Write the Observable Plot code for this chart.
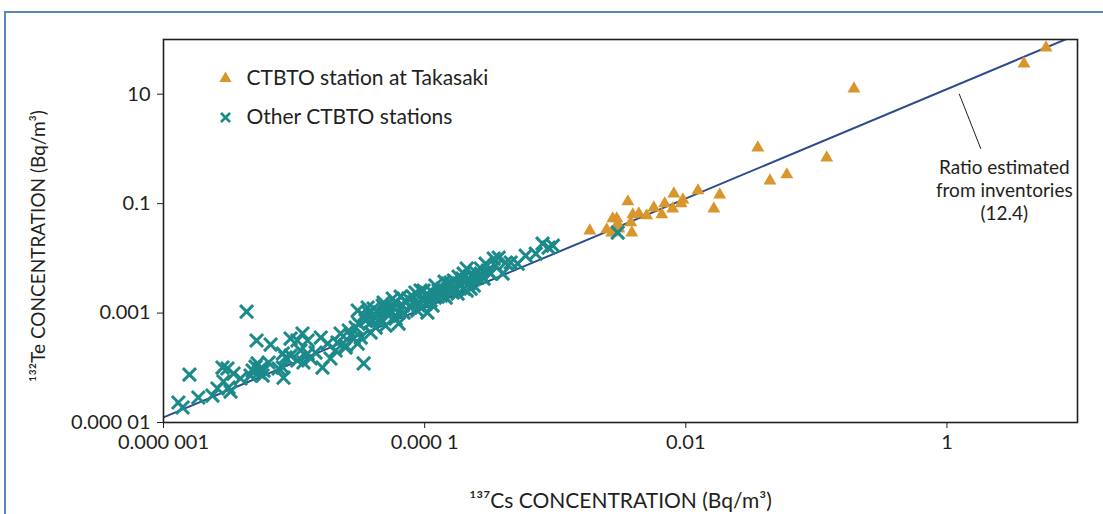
<!DOCTYPE html>
<html><head><meta charset="utf-8">
<script src="https://cdn.jsdelivr.net/npm/d3@7"></script>
<script src="https://cdn.jsdelivr.net/npm/@observablehq/plot@0.6"></script>
<style>
html,body{margin:0;padding:0;background:#fff;}
#wrap{position:relative;width:1103px;height:514px;overflow:hidden;}
#border{position:absolute;left:4px;top:11px;right:-10px;bottom:-10px;border-left:2px solid #5a86b8;border-top:2px solid #5a86b8;}
#chart{position:absolute;left:0;top:0;}
</style></head><body>
<div id="wrap"><div id="border"></div><div id="chart"></div></div>
<script>
// 137Cs (x) and 132Te (y) concentrations, Bq/m3
const otherCs = [1.30e-6,1.40e-6,1.58e-6,1.85e-6,2.59e-6,2.83e-6,3.09e-6,2.88e-6,3.15e-6,3.26e-6,
3.44e-6,4.33e-6,4.81e-6,5.07e-6,5.25e-6,5.35e-6,5.74e-6,5.84e-6,5.54e-6,5.16e-6,
6.61e-6,7.6e-6,8.2e-6,8.3e-6,8.2e-6,8.6e-6,9.4e-6,1.06e-5,1.16e-5,1.27e-5,
1.12e-5,1.27e-5,1.34e-5,1.18e-5,1.06e-5,9.4e-6,1.6e-5,1.65e-5,1.9e-5,1.81e-5,
2.15e-5,2.27e-5,2.62e-5,2.48e-5,2.86e-5,2.96e-5,3.07e-5,3.12e-5,3.41e-5,2.48e-5,
3.07e-5,3.24e-5,3.41e-5,3.72e-5,4.06e-5,3.86e-5,4.22e-5,4.6e-5,4.77e-5,5.02e-5,
5.3e-5,5.69e-5,5.78e-5,6.32e-5,6.32e-5,6.78e-5,7.5e-5,7.8e-5,8.5e-5,9.7e-5,
1.02e-4,1.05e-4,1.17e-4,1.21e-4,1.37e-4,1.45e-4,1.5e-4,1.58e-4,1.67e-4,1.73e-4,
1.79e-4,1.95e-4,1.99e-4,1.99e-4,2.1e-4,2.17e-4,2.25e-4,2.38e-4,2.38e-4,2.55e-4,
2.69e-4,2.69e-4,2.93e-4,3.21e-4,3.38e-4,3.69e-4,3.96e-4,4.56e-4,5.16e-4,5.94e-4,
7.1e-4,8.0e-4,8.9e-4,9.6e-4,3.01e-3,4.37e-5,5.5e-5,6.0e-5,7.1e-5,8.2e-5,
9.0e-5,1.11e-4,1.28e-4,1.33e-4,1.53e-4,1.82e-4,3.66e-5,4.0e-5,4.85e-5,6.55e-5,
9.3e-5,1.07e-4,1.89e-4,2.17e-4,3.04e-4,
3.53e-5,4.45e-5,5.12e-5,6.0e-5,6.9e-5,8.1e-5,8.8e-5,9.8e-5,1.15e-4,1.26e-4,
1.42e-4,1.64e-4,1.82e-4,2.10e-4,2.46e-4,2.83e-4,3.50e-4,4.18e-4,2.71e-5,2.08e-5,
1.46e-5,6.38e-6,4.64e-6,2.37e-6,3.89e-6];
const otherTe = [2.32e-5,1.88e-5,7.5e-5,2.86e-5,4.18e-5,1.01e-4,9.7e-5,5.6e-5,4.36e-5,3.68e-5,
7.85e-5,1.06e-3,8.9e-5,1.05e-4,1.2e-4,8.2e-5,7.2e-5,8.9e-5,9.7e-5,3.15e-4,
2.66e-4,9.7e-5,1.01e-4,6.6e-5,1.82e-4,1.54e-4,3.42e-4,3.15e-4,4.22e-4,3.15e-4,
2.07e-4,1.82e-4,1.48e-4,1.25e-4,1.36e-4,1.67e-4,3.57e-4,1.01e-4,1.48e-4,2.77e-4,
2.89e-4,4.22e-4,4.79e-4,2.55e-4,3.42e-4,5.43e-4,1.11e-3,6.43e-4,1.2e-4,2.34e-4,
2.77e-4,3.57e-4,9.0e-4,1.02e-3,1.21e-3,4.4e-4,5.43e-4,7.9e-4,1.37e-3,5.9e-4,
9.0e-4,1.84e-3,1.26e-3,1.02e-3,6.43e-4,1.37e-3,1.84e-3,1.26e-3,2.37e-3,1.92e-3,
1.49e-3,1.02e-3,2.27e-3,3.18e-3,2.8e-3,1.92e-3,3.46e-3,3.61e-3,3.93e-3,2.8e-3,
2.27e-3,4.27e-3,5.26e-3,2.8e-3,6.5e-3,3.46e-3,2.8e-3,4.27e-3,3.18e-3,4.45e-3,
6.5e-3,5.26e-3,8.0e-3,5.26e-3,9.9e-3,1.03e-2,5.26e-3,8.4e-3,8.0e-3,1.12e-2,
1.22e-2,1.86e-2,1.57e-2,1.71e-2,2.95e-2,7.3e-4,1.11e-3,7.9e-4,1.69e-3,1.56e-3,
1.37e-3,1.69e-3,2.58e-3,2.09e-3,2.58e-3,3.46e-3,1.26e-3,7.3e-4,1.56e-3,2.0e-3,
2.58e-3,2.09e-3,3.18e-3,4.27e-3,5.97e-3,
7.3e-4,1.02e-3,1.21e-3,1.56e-3,1.02e-3,2.0e-3,1.11e-3,2.58e-3,1.37e-3,2.0e-3,
3.76e-3,2.37e-3,4.64e-3,2.58e-3,5.5e-3,4.27e-3,7.4e-3,8.4e-3,3.88e-4,2.07e-4,
1.90e-4,1.25e-4,7.2e-5,3.11e-5,6.37e-5];

const takasakiCs = [1.84e-3,2.48e-3,2.71e-3,2.76e-3,2.96e-3,3.01e-3,3.07e-3,3.6e-3,3.86e-3,3.79e-3,
3.93e-3,4.37e-3,5.02e-3,5.69e-3,6.55e-3,6.9e-3,7.94e-3,8.1e-3,9.2e-3,9.5e-3,
1.24e-2,1.64e-2,1.82e-2,3.56e-2,4.41e-2,5.94e-2,0.12,0.194,3.89,5.74];
const takasakiTe = [3.21e-2,3.35e-2,2.95e-2,5.32e-2,5.32e-2,4.32e-2,3.49e-2,0.109,2.95e-2,4.5e-2,
6.3e-2,6.56e-2,6.04e-2,8.45e-2,6.3e-2,0.1,8.1e-2,0.152,0.1,0.118,
0.173,8.1e-2,0.146,1.05,0.263,0.339,0.692,12.6,36.1,70.6];

const ratio = 12.4;               // Te/Cs ratio estimated from inventories
const ratioLineCs = [1e-6, 10];

const xTicks = [1e-6, 1e-4, 1e-2, 1];
const xTickLabels = ["0.000 001", "0.000 1", "0.01", "1"];
const yTicks = [1e-5, 1e-3, 0.1, 10];
const yTickLabels = ["0.000 01", "0.001", "0.1", "10"];

const seriesNames = ["CTBTO station at Takasaki", "Other CTBTO stations"];
const xTitle = "¹³⁷Cs CONCENTRATION (Bq/m³)";
const yTitle = "¹³²Te CONCENTRATION (Bq/m³)";
const noteText = "Ratio estimated\nfrom inventories\n(12.4)";
const noteX = [2.75], noteY = [0.18];
const leaderX1 = [1.24], leaderY1 = [10.2], leaderX2 = [1.82], leaderY2 = [1.0];

const teal = "#1b8a8b", orange = "#d8962d", navy = "#2d4c8c", ink = "#231f20";

const other = otherCs.map((x, i) => ({x, y: otherTe[i]}));
const tak = takasakiCs.map((x, i) => ({x, y: takasakiTe[i]}));
const fit = ratioLineCs.map(x => ({x, y: ratio * x}));

const plot = Plot.plot({
  width: 1103, height: 514,
  marginLeft: 163, marginRight: 26, marginTop: 39, marginBottom: 92,
  style: {fontFamily: "Lato, 'Open Sans', sans-serif", fontSize: "20px", color: ink, background: "transparent"},
  x: {type: "log", domain: [1e-6, 10]},
  y: {type: "log", domain: [1e-5, 100]},
  marks: [
    Plot.axisX({ticks: xTicks, tickFormat: d => xTickLabels[xTicks.indexOf(d)], tickSize: 6, tickPadding: 6, label: null, stroke: ink, fontSize: 20}),
    Plot.axisY({ticks: yTicks, tickFormat: d => yTickLabels[yTicks.indexOf(d)], tickSize: 6, tickPadding: 7, label: null, stroke: ink, fontSize: 20}),
    Plot.line(fit, {x: "x", y: "y", stroke: navy, strokeWidth: 2, clip: true}),
    Plot.dot(tak, {x: "x", y: "y", symbol: "triangle", fill: orange, stroke: "none", r: 4.8}),
    Plot.dot(other, {x: "x", y: "y", symbol: "times", stroke: teal, strokeWidth: 3, r: 6}),
    Plot.frame({stroke: ink, strokeWidth: 1.6}),
    // legend
    Plot.dot([0], {frameAnchor: "top-left", dx: 62, dy: 39, symbol: "triangle", fill: orange, stroke: "none", r: 4.5}),
    Plot.dot([0], {frameAnchor: "top-left", dx: 62, dy: 78, symbol: "times", stroke: teal, strokeWidth: 2.6, r: 4.2}),
    Plot.text([seriesNames[0]], {frameAnchor: "top-left", dx: 83, dy: 39, textAnchor: "start", lineAnchor: "middle", fontSize: 21, fill: ink}),
    Plot.text([seriesNames[1]], {frameAnchor: "top-left", dx: 83, dy: 78, textAnchor: "start", lineAnchor: "middle", fontSize: 21, fill: ink}),
    // annotation
    Plot.link([0], {x1: () => leaderX1[0], y1: () => leaderY1[0], x2: () => leaderX2[0], y2: () => leaderY2[0], stroke: ink, strokeWidth: 1}),
    Plot.text([noteText], {x: () => noteX[0], y: () => noteY[0], textAnchor: "middle", lineAnchor: "middle", lineHeight: 1.2, fontSize: 19, fill: ink}),
    // axis titles
    Plot.text([xTitle], {frameAnchor: "bottom", dy: 79, textAnchor: "middle", lineAnchor: "middle", fontSize: 21, fill: ink}),
    Plot.text([yTitle], {frameAnchor: "left", dx: -125, dy: 15, textAnchor: "middle", lineAnchor: "middle", rotate: -90, fontSize: 19, fill: ink})
  ]
});
document.getElementById("chart").appendChild(plot);
</script>
</body></html>
